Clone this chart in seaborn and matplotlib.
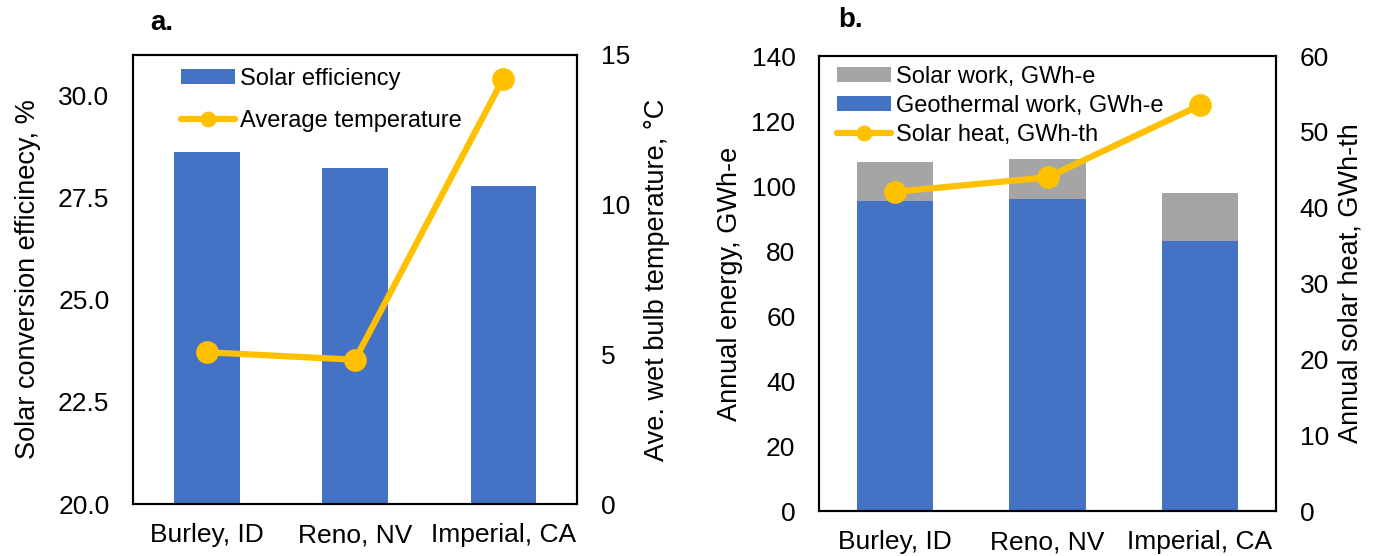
import matplotlib
matplotlib.use("Agg")
import matplotlib.pyplot as plt
import seaborn as sns
import pandas as pd
from matplotlib.patches import Patch
from matplotlib.lines import Line2D

sites = ["Burley, ID", "Reno, NV", "Imperial, CA"]
solar_eff = [28.62, 28.24, 27.80]
avg_temp = [5.07, 4.82, 14.2]
geo_work = [95.4, 95.9, 83.2]
solar_work = [12.1, 12.4, 14.6]
solar_heat = [42.1, 44.0, 53.5]

BLUE = "#4472C4"
GRAY = "#A5A5A5"
YEL = "#FFC000"

sns.set_theme(style="white")
plt.rcParams["font.family"] = ["Liberation Sans", "DejaVu Sans"]
for k in ("text.color", "axes.labelcolor", "xtick.color", "ytick.color"):
    plt.rcParams[k] = "black"
FS = 19
YFS = 19.5
LFS = 17
LW = 4.5
MS = 13

fig = plt.figure(figsize=(13.73, 5.56), dpi=100)
axA = fig.add_axes([0.0969, 0.0935, 0.3234, 0.8076])
axB = fig.add_axes([0.5965, 0.0809, 0.3329, 0.8183])

df = pd.DataFrame({"site": sites, "eff": solar_eff, "temp": avg_temp,
                   "geo": geo_work, "sw": solar_work, "heat": solar_heat})
df["total"] = df["geo"] + df["sw"]

# Panel a
sns.barplot(data=df, x="site", y="eff", color=BLUE, width=0.44, saturation=1,
            linewidth=0, ax=axA)
axA.set_ylim(20, 31)
axA.set_yticks([20, 22.5, 25, 27.5, 30])
axA.set_yticklabels(["20.0", "22.5", "25.0", "27.5", "30.0"])
axA2 = axA.twinx()
sns.pointplot(data=df, x="site", y="temp", color=YEL, markers="o", markersize=MS,
              linewidth=LW, ax=axA2)
axA2.set_ylim(0, 15)
axA2.set_yticks([0, 5, 10, 15])
axA.set_xlabel("")
axA.set_ylabel("Solar conversion efficinecy, %", fontsize=YFS, labelpad=12)
axA2.set_ylabel("Ave. wet bulb temperature, °C", fontsize=YFS, labelpad=10)
axA.set_xlim(-0.5, 2.5)

# Panel b
sns.barplot(data=df, x="site", y="total", color=GRAY, width=0.5, saturation=1,
            linewidth=0, ax=axB)
sns.barplot(data=df, x="site", y="geo", color=BLUE, width=0.5, saturation=1,
            linewidth=0, ax=axB)
axB.set_ylim(0, 140)
axB.set_yticks(range(0, 141, 20))
axB2 = axB.twinx()
sns.pointplot(data=df, x="site", y="heat", color=YEL, markers="o", markersize=MS,
              linewidth=LW, ax=axB2)
axB2.set_ylim(0, 60)
axB2.set_yticks(range(0, 61, 10))
axB.set_xlabel("")
axB.set_ylabel("Annual energy, GWh-e", fontsize=YFS, labelpad=6)
axB2.set_ylabel("Annual solar heat, GWh-th", fontsize=YFS, labelpad=6)
axB.set_xlim(-0.5, 2.5)

for ax in (axA, axA2, axB, axB2):
    ax.tick_params(axis="both", length=0, labelsize=FS, colors="black")
    ax.tick_params(axis="y", pad=17)
    ax.tick_params(axis="x", pad=14)
    for s in ax.spines.values():
        s.set_color("black")
        s.set_linewidth(1.5)
    ax.grid(False)

# Legends
hA = [Patch(facecolor=BLUE, edgecolor="none"),
      Line2D([0], [0], color=YEL, lw=LW, marker="o", markersize=MS * 0.8)]
axA.legend(hA, ["Solar efficiency", "Average temperature"], loc="upper left",
           bbox_to_anchor=(0.108, 0.972), frameon=False, fontsize=LFS,
           handlelength=2.3, handleheight=0.6, labelspacing=0.85, handletextpad=0.2,
           borderaxespad=0, borderpad=0)
hB = [Patch(facecolor=GRAY, edgecolor="none"),
      Patch(facecolor=BLUE, edgecolor="none"),
      Line2D([0], [0], color=YEL, lw=LW, marker="o", markersize=MS * 0.8)]
axB.legend(hB, ["Solar work, GWh-e", "Geothermal work, GWh-e", "Solar heat, GWh-th"],
           loc="upper left", bbox_to_anchor=(0.039, 0.978), frameon=False, fontsize=LFS,
           handlelength=2.3, handleheight=0.6, labelspacing=0.3, handletextpad=0.2,
           borderaxespad=0, borderpad=0)

fig.text(150 / 1373, 1 - 23 / 556, "a.", fontsize=20, fontweight="bold", ha="left", va="center")
fig.text(838 / 1373, 1 - 20 / 556, "b.", fontsize=20, fontweight="bold", ha="left", va="center")

fig.savefig("out.png", dpi=100)
